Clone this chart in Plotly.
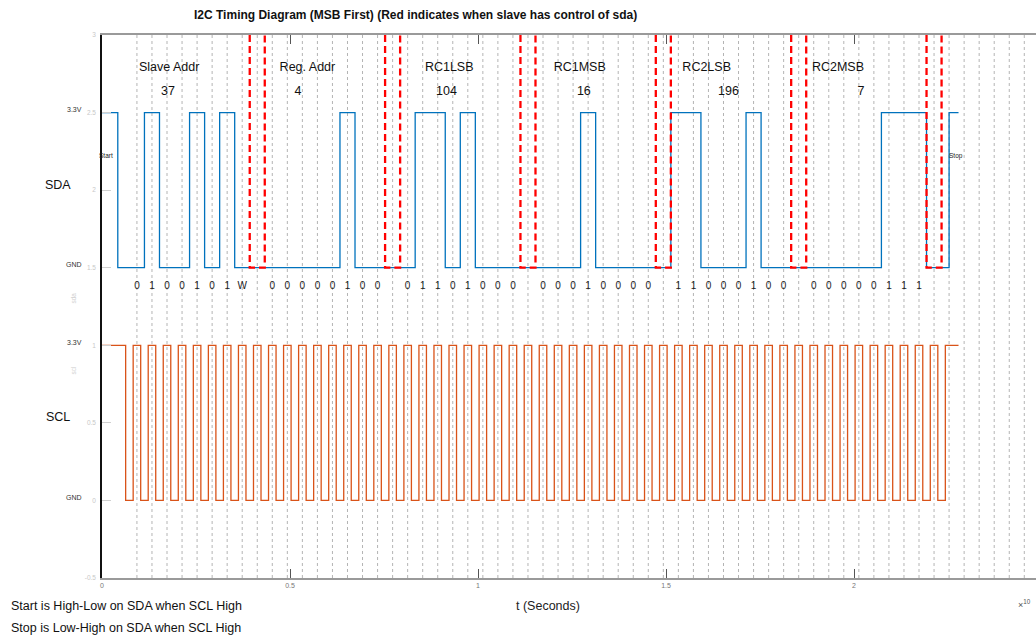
import plotly.graph_objects as go

# ---------------- data ----------------
byte_names = ["Slave Addr", "Reg. Addr", "RC1LSB", "RC1MSB", "RC2LSB", "RC2MSB"]
byte_values = [37, 4, 104, 16, 196, 7]
# label positions (time units)
name_x = [0.1787, 0.5463, 0.9234, 1.2705, 1.6082, 1.9574]
value_x = [0.1755, 0.5213, 0.9160, 1.2816, 1.6660, 2.0186]
name_y = 2.785
value_y = 2.634
bit_label_y = 1.377

bit_period = 0.04        # SCL period
scl_first_fall = 0.0629  # first SCL falling edge
scl_low_time = 0.02      # SCL low duration
sda_start_fall = 0.042   # start condition (SDA falls while SCL high)
t_end = 2.278            # end of trace
n_grid = 62              # dotted grid lines at bit sample points

sda_high, sda_low = 2.5, 1.5
scl_high, scl_low = 1.0, 0.0

x_ticks = [0, 0.5, 1, 1.5, 2]
y_ticks = [-0.5, 0, 0.5, 1, 1.5, 2, 2.5, 3]
y_tick_text = ["-0.5", "0", "0.5", "1", "1.5", "2", "2.5", "3"]

FONT = "Liberation Sans, Arial, sans-serif"
BLUE = "#0072BD"
ORANGE = "#D95319"

# ---------------- bits ----------------
slot_bits = []     # SDA level bit per slot (54 slots)
slot_labels = []   # text shown under each slot
ack_slots = []
for i, v in enumerate(byte_values):
    if i == 0:
        bits = [int(b) for b in format(v, "07b")] + [0]
        labels = [str(b) for b in bits[:7]] + ["W"]
    else:
        bits = [int(b) for b in format(v, "08b")]
        labels = [str(b) for b in bits]
    slot_bits += bits
    slot_labels += labels
    ack_slots.append(len(slot_bits))
    slot_bits.append(0)      # ACK pulled low
    slot_labels.append("")

n_slots = len(slot_bits)
boundary = [scl_first_fall + scl_low_time / 2 + k * bit_period for k in range(n_slots + 1)]
centers = [b + bit_period / 2 for b in boundary]

# SDA waveform
sda_x = [0, sda_start_fall, sda_start_fall]
sda_y = [sda_high, sda_high, sda_low]
prev = sda_low
for k in range(n_slots):
    lvl = sda_high if slot_bits[k] else sda_low
    sda_x += [boundary[k], boundary[k]]
    sda_y += [prev, lvl]
    prev = lvl
stop_t = boundary[n_slots] + bit_period / 2
sda_x += [boundary[n_slots], boundary[n_slots], stop_t, stop_t, t_end]
sda_y += [prev, sda_low, sda_low, sda_high, sda_high]

# SCL waveform
scl_x = [0]
scl_y = [scl_high]
for k in range(n_slots + 1):
    f = scl_first_fall + k * bit_period
    scl_x += [f, f, f + scl_low_time, f + scl_low_time]
    scl_y += [scl_high, scl_low, scl_low, scl_high]
scl_x.append(t_end)
scl_y.append(scl_high)

# red ACK boxes (slave control)
ack_x, ack_y = [], []
for a in ack_slots:
    ack_x += [boundary[a], boundary[a], boundary[a + 1], boundary[a + 1], None]
    ack_y += [3, sda_low, sda_low, 3, None]

# grid lines
grid_x, grid_y = [], []
for k in range(n_grid):
    c = scl_first_fall + scl_low_time / 2 + bit_period / 2 + k * bit_period
    grid_x += [c, c, None]
    grid_y += [-0.5, 3, None]

fig = go.Figure()
fig.add_trace(go.Scatter(x=grid_x, y=grid_y, mode="lines",
                         line=dict(color="#b4b4b4", width=1, dash="dot"),
                         hoverinfo="skip", showlegend=False))
fig.add_trace(go.Scatter(x=sda_x, y=sda_y, mode="lines",
                         line=dict(color=BLUE, width=1.3), showlegend=False))
fig.add_trace(go.Scatter(x=scl_x, y=scl_y, mode="lines",
                         line=dict(color=ORANGE, width=1.3), showlegend=False))
fig.add_trace(go.Scatter(x=ack_x, y=ack_y, mode="lines",
                         line=dict(color="#FF0000", width=2.3, dash="7px,4px"),
                         showlegend=False))
fig.add_trace(go.Scatter(x=centers[:n_slots], y=[bit_label_y] * n_slots, mode="text",
                         text=slot_labels, textposition="middle center",
                         textfont=dict(family=FONT, size=10, color="#222"),
                         showlegend=False, hoverinfo="skip"))
fig.add_trace(go.Scatter(x=name_x, y=[name_y] * len(name_x), mode="text",
                         text=byte_names, textposition="middle center",
                         textfont=dict(family=FONT, size=12.5, color="#111"),
                         showlegend=False, hoverinfo="skip"))
fig.add_trace(go.Scatter(x=value_x, y=[value_y] * len(value_x), mode="text",
                         text=[str(v) for v in byte_values], textposition="middle center",
                         textfont=dict(family=FONT, size=12.5, color="#111"),
                         showlegend=False, hoverinfo="skip"))

W, H = 1036, 637
L, R, T, B = 102, 0, 35, 59
pw = W - L - R
ph = H - T - B


def px(x):
    return (x - L) / pw


def py(y):
    return 1 - (y - T) / ph


ann = []
# title
ann.append(dict(text="<b>I2C Timing Diagram (MSB First) (Red indicates when slave has control of sda)</b>",
                x=px(415.5), y=py(15), xref="paper", yref="paper", showarrow=False,
                xanchor="center", yanchor="middle", font=dict(family=FONT, size=12, color="#111")))
# signal names
ann.append(dict(text="SDA", x=px(57.5), y=py(185), xref="paper", yref="paper", showarrow=False,
                xanchor="center", yanchor="middle", font=dict(family=FONT, size=12.5, color="#111")))
ann.append(dict(text="SCL", x=px(57.5), y=py(417), xref="paper", yref="paper", showarrow=False,
                xanchor="center", yanchor="middle", font=dict(family=FONT, size=12.5, color="#111")))
# level labels
for lab, yv in [("3.3V", sda_high), ("GND", sda_low), ("3.3V", scl_high), ("GND", scl_low)]:
    ann.append(dict(text=lab, x=px(84), y=yv, xref="paper", yref="y", showarrow=False,
                    xanchor="right", yanchor="middle", yshift=3,
                    font=dict(family=FONT, size=7, color="#333")))
# faint rotated axis names
ann.append(dict(text="sda", x=px(67), y=py(298), xref="paper", yref="paper", showarrow=False,
                textangle=-90, font=dict(family=FONT, size=6.5, color="#d0d0d0")))
ann.append(dict(text="scl", x=px(67), y=py(370), xref="paper", yref="paper", showarrow=False,
                textangle=-90, font=dict(family=FONT, size=6.5, color="#d0d0d0")))
# start / stop
ann.append(dict(text="Start", x=px(97), y=py(155), xref="paper", yref="paper", showarrow=False,
                xanchor="left", yanchor="middle", font=dict(family=FONT, size=6.5, color="#222")))
ann.append(dict(text="Stop", x=stop_t - 0.005, y=2.222, xref="x", yref="y", showarrow=False,
                xanchor="left", yanchor="middle", font=dict(family=FONT, size=6.5, color="#222")))
# x label and exponent
ann.append(dict(text="t (Seconds)", x=px(548), y=py(606), xref="paper", yref="paper", showarrow=False,
                xanchor="center", yanchor="middle", font=dict(family=FONT, size=12.5, color="#222")))
ann.append(dict(text="×<sup>10</sup>", x=px(1016), y=py(604), xref="paper", yref="paper", showarrow=False,
                xanchor="left", yanchor="middle", font=dict(family=FONT, size=9, color="#555")))
# notes
ann.append(dict(text="Start is High-Low on SDA when SCL High", x=px(9), y=py(606), xref="paper",
                yref="paper", showarrow=False, xanchor="left", yanchor="middle",
                font=dict(family=FONT, size=12.5, color="#111")))
ann.append(dict(text="Stop is Low-High on SDA when SCL High", x=px(9), y=py(628), xref="paper",
                yref="paper", showarrow=False, xanchor="left", yanchor="middle",
                font=dict(family=FONT, size=12.5, color="#111")))

fig.update_layout(
    width=W, height=H,
    margin=dict(l=L, r=R, t=T, b=B, pad=0),
    paper_bgcolor="white", plot_bgcolor="white",
    annotations=ann,
    xaxis=dict(range=[0, pw / 376.0], tickvals=x_ticks, ticktext=[str(v) for v in x_ticks],
               showgrid=False, zeroline=False, showline=True, linecolor="#9a9a9a", linewidth=1.5,
               mirror="ticks", ticks="inside", ticklen=9, tickcolor="#555", tickwidth=1.3,
               tickfont=dict(family=FONT, size=7, color="#777")),
    yaxis=dict(range=[-0.5, 3], tickvals=y_ticks, ticktext=y_tick_text,
               showgrid=False, zeroline=False, showline=True, linecolor="#111", linewidth=1.5,
               ticks="inside", ticklen=9, tickcolor="#d0d0d0", tickwidth=1.3,
               ticklabelstandoff=3,
               tickfont=dict(family=FONT, size=6.5, color="#c8c8c8")),
)

fig.write_html("out.html", config={"displayModeBar": False},
               post_script="document.body.style.margin='0';document.body.style.padding='0';"
                           "document.body.style.overflow='hidden';")
